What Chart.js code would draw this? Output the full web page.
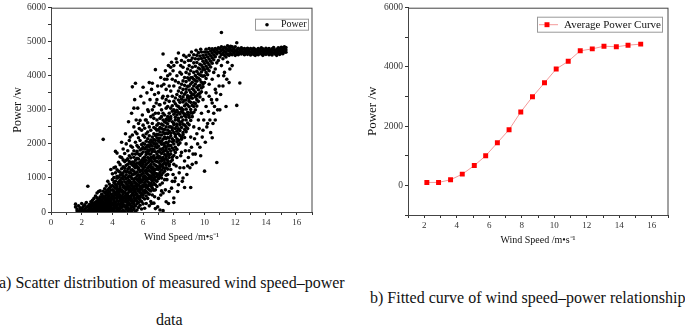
<!DOCTYPE html>
<html>
<head>
<meta charset="utf-8">
<script src="https://cdn.jsdelivr.net/npm/chart.js@4.4.1/dist/chart.umd.min.js"></script>
<style>
  body { margin: 0; background: #fff; }
  #page { position: relative; width: 685px; height: 328px; overflow: hidden; font-family: 'Liberation Serif', 'Times New Roman', serif; color: #111; }
  #scatterChart { position: absolute; left: 0; top: 0; }
  #curveChart { position: absolute; left: 340px; top: 0; }
  .caption { position: absolute; font-size: 16px; line-height: 18px; white-space: nowrap; }
</style>
</head>
<body>
<div id="page">
  <canvas id="scatterChart" width="340" height="250"></canvas>
  <canvas id="curveChart" width="345" height="250"></canvas>
  <div class="caption" style="left:-1px; top:274px;">a) Scatter distribution of measured wind speed–power</div>
  <div class="caption" style="left:156px; top:311px;">data</div>
  <div class="caption" style="left:370px; top:289px;">b) Fitted curve of wind speed–power relationship</div>
</div>
<script>
// measured points, grouped by wind speed (m/s) -> power readings (W)
const startupColumns = [
  [1.6, [150, 230]], [1.7, [40, 90]], [1.8, [10, 180]], [1.9, [60, 120]],
  [2.0, [20, 100, 250]], [2.1, [50, 160]], [2.2, [10, 90, 210]], [2.3, [30, 130, 280]],
  [2.4, [60, 170, 756]],
  [2.5, [10, 60, 100, 170, 220]],
  [2.6, [40, 90, 140, 210, 300]],
  [2.7, [20, 65, 90, 190, 260, 340]],
  [2.8, [5, 50, 130, 180, 230, 400]],
  [2.9, [10, 80, 120, 170, 240, 290, 470]],
  [3.0, [40, 75, 120, 210, 260, 330, 420, 560]],
  [3.1, [20, 90, 160, 200, 250, 310, 380, 600]],
  [3.2, [5, 60, 140, 190, 230, 310, 370, 450, 620]],
  [3.3, [10, 100, 135, 180, 270, 320, 360, 440, 520]],
  [3.4, [40, 85, 130, 220, 255, 300, 410, 470, 610, 2134]],
  [3.5, [20, 80, 170, 215, 260, 350, 400, 450, 560, 680]],
  [3.6, [50, 120, 160, 210, 300, 345, 390, 500, 600, 760]],
  [3.7, [10, 90, 160, 250, 290, 340, 430, 480, 540, 650, 900]],
  [3.8, [30, 70, 130, 200, 290, 330, 380, 470, 580, 700, 820]],
  [3.9, [60, 110, 180, 240, 330, 370, 420, 520, 640, 750, 1250]]
];

const rampColumns = [
  [4.0, [15, 95, 210, 260, 385, 470, 530, 655, 780, 950, 1120]],
  [4.1, [55, 140, 175, 300, 350, 445, 590, 620, 735, 870, 1010, 1300]],
  [4.2, [5, 120, 230, 290, 410, 505, 560, 700, 810, 905, 1150, 1320, 1780]],
  [4.3, [70, 160, 195, 330, 395, 480, 610, 680, 745, 990, 1050, 1240, 1730]],
  [4.4, [30, 110, 250, 315, 440, 520, 570, 665, 830, 880, 1020, 1200, 1460]],
  [4.5, [85, 180, 215, 345, 400, 505, 625, 690, 760, 935, 1080, 1170, 1390, 1620]],
  [4.6, [20, 135, 240, 285, 375, 460, 595, 640, 820, 870, 1000, 1100, 1270, 1600]],
  [4.7, [60, 200, 265, 350, 430, 540, 605, 725, 790, 960, 1060, 1150, 1330, 1530, 1850]],
  [4.8, [10, 150, 190, 325, 415, 470, 580, 700, 745, 890, 1030, 1210, 1290, 1480, 1720]],
  [4.9, [90, 170, 290, 370, 455, 520, 650, 715, 840, 975, 1095, 1180, 1370, 1520, 2000]],
  [5.0, [35, 130, 225, 305, 420, 490, 560, 690, 775, 905, 1010, 1180, 1260, 1400, 1560, 1800]],
  [5.1, [70, 210, 255, 360, 445, 590, 630, 740, 850, 930, 1065, 1160, 1310, 1480, 1650, 2100]],
  [5.2, [15, 115, 190, 330, 405, 475, 610, 690, 795, 880, 1020, 1150, 1230, 1420, 1590, 1940]],
  [5.3, [50, 160, 270, 350, 500, 545, 665, 760, 830, 975, 1090, 1240, 1380, 1470, 1700, 1900, 2260, 3675]],
  [5.4, [100, 230, 300, 420, 470, 600, 700, 730, 900, 960, 1110, 1200, 1340, 1450, 1610, 1800, 2500, 3050]],
  [5.5, [20, 175, 345, 390, 515, 580, 655, 780, 860, 995, 1140, 1300, 1390, 1520, 1700, 2050, 2350, 3780]],
  [5.6, [60, 240, 320, 440, 525, 690, 740, 820, 945, 1060, 1170, 1345, 1440, 1580, 1780, 1950, 2300]],
  [5.7, [130, 280, 400, 470, 610, 650, 790, 900, 985, 1090, 1250, 1300, 1430, 1560, 1700, 1900, 2180, 2600]],
  [5.8, [200, 350, 430, 560, 630, 715, 850, 955, 1040, 1180, 1230, 1390, 1470, 1660, 1820, 2100, 2690]],
  [5.9, [90, 305, 490, 545, 680, 760, 885, 935, 1100, 1210, 1345, 1440, 1510, 1710, 1850, 1980, 2400]],
  [6.0, [240, 420, 500, 610, 735, 800, 950, 1030, 1140, 1275, 1400, 1480, 1580, 1760, 1900, 2020, 2250, 2550, 3665]],
  [6.1, [110, 380, 560, 640, 770, 870, 980, 1060, 1205, 1330, 1470, 1540, 1615, 1850, 1990, 2200, 2460]],
  [6.2, [250, 470, 600, 720, 800, 925, 1015, 1150, 1240, 1390, 1520, 1690, 1760, 1900, 2080, 2300, 2700]],
  [6.3, [400, 560, 690, 755, 890, 980, 1100, 1195, 1300, 1440, 1600, 1745, 1830, 1960, 2150, 2350, 2620, 3000]],
  [6.4, [180, 520, 650, 800, 850, 1010, 1075, 1220, 1340, 1485, 1560, 1700, 1800, 1920, 2050, 2240, 2500, 3800]],
  [6.5, [310, 620, 760, 840, 965, 1050, 1180, 1295, 1390, 1530, 1600, 1700, 1850, 1980, 2110, 2400, 2800]],
  [6.6, [500, 700, 790, 915, 1020, 1130, 1250, 1320, 1475, 1610, 1770, 1840, 1940, 2060, 2200, 2600, 3000, 3780]],
  [6.7, [260, 640, 850, 960, 1080, 1190, 1270, 1410, 1560, 1650, 1840, 2010, 2130, 2300, 2480, 2750, 3100]],
  [6.8, [100, 650, 800, 930, 1020, 1140, 1250, 1370, 1500, 1580, 1770, 1920, 2000, 2100, 2250, 2450, 2900, 4180]],
  [6.9, [750, 900, 1050, 1120, 1270, 1340, 1480, 1600, 1700, 1890, 2000, 2180, 2280, 2400, 2550, 2700, 3300]],
  [7.0, [400, 980, 1090, 1250, 1320, 1460, 1580, 1645, 1780, 1930, 2090, 2160, 2270, 2420, 2600, 2900, 3500]],
  [7.1, [60, 800, 1020, 1160, 1310, 1390, 1500, 1620, 1760, 1850, 2050, 2170, 2350, 2480, 2750, 3150]],
  [7.2, [620, 1000, 1090, 1230, 1370, 1490, 1570, 1720, 1840, 1990, 2080, 2260, 2450, 2580, 2800, 3000, 3700]],
  [7.3, [40, 560, 1150, 1310, 1400, 1530, 1600, 1770, 1860, 2000, 2140, 2340, 2430, 2550, 2700, 2900, 3400, 4640]],
  [7.4, [950, 1200, 1280, 1450, 1540, 1690, 1790, 1930, 2010, 2200, 2300, 2420, 2650, 2850, 3200, 3900]],
  [7.5, [300, 1080, 1300, 1390, 1570, 1640, 1820, 1880, 2050, 2160, 2320, 2500, 2620, 2720, 3050, 3300, 3600]],
  [7.6, [1100, 1260, 1450, 1510, 1700, 1760, 1940, 2010, 2190, 2300, 2410, 2590, 2700, 2800, 3100, 3400, 4000]],
  [7.7, [600, 1350, 1400, 1600, 1680, 1850, 1950, 2080, 2170, 2360, 2500, 2680, 2760, 2900, 3250, 3700]],
  [7.8, [1250, 1480, 1700, 1790, 1950, 2230, 2310, 2500, 2740, 2800, 3050, 3550, 4250]],
  [7.9, [900, 1530, 1610, 1880, 2060, 2150, 2400, 2470, 2650, 2960, 3120, 3400, 3900]],
  [8.0, [280, 410, 1400, 1660, 1820, 2000, 2100, 2330, 2560, 2610, 2870, 3000, 3250, 3700, 4300]],
  [8.1, [1000, 1750, 1900, 2220, 2280, 2450, 2700, 2780, 2930, 3180, 3350, 3850]],
  [8.2, [1600, 1840, 2060, 2150, 2370, 2520, 2580, 2850, 2990, 3120, 3450, 4000, 4400]],
  [8.3, [800, 1980, 2110, 2300, 2440, 2690, 2750, 2920, 3100, 3290, 3550, 3800, 4670]],
  [8.4, [1300, 2030, 2250, 2390, 2560, 2620, 2880, 3040, 3220, 3390, 3650, 4100]],
  [8.5, [1750, 2140, 2200, 2480, 2650, 2790, 2950, 3050, 3310, 3500, 3750, 4050, 4450]],
  [8.6, [1000, 2270, 2330, 2580, 2700, 2910, 3000, 3230, 3380, 3600, 3850, 4250]],
  [8.7, [720, 1500, 2190, 2420, 2550, 2830, 2880, 3120, 3280, 3460, 3720, 3950, 4400]],
  [8.8, [2000, 2360, 2500, 2700, 2790, 3020, 3180, 3290, 3520, 3610, 3830, 4100, 4550]],
  [8.9, [1350, 2450, 2610, 2860, 2930, 3140, 3360, 3410, 3690, 3940, 4200]],
  [9.0, [1800, 2560, 2780, 2850, 3090, 3250, 3330, 3580, 3700, 3880, 4050, 4300, 4600]],
  [9.1, [720, 2200, 2690, 2920, 3010, 3220, 3400, 3510, 3760, 3940, 4150, 4450]],
  [9.2, [1400, 2800, 2900, 3130, 3340, 3460, 3620, 3810, 3950, 4250, 4520]],
  [9.3, [2500, 2930, 3100, 3210, 3450, 3580, 3700, 3900, 4100, 4380, 4620]],
  [9.4, [1700, 3000, 3190, 3380, 3520, 3760, 3860, 4010, 4280, 4500]],
  [9.5, [2300, 3110, 3300, 3410, 3660, 3840, 3950, 4130, 4390, 4600]],
  [9.6, [2700, 3250, 3460, 3590, 3700, 3930, 4060, 4230, 4490, 4680]],
  [9.7, [1900, 3380, 3490, 3720, 3880, 4030, 4200, 4340, 4580]],
  [9.8, [2900, 3530, 3640, 3810, 4000, 4110, 4310, 4510, 4700]],
  [9.9, [2400, 3300, 3680, 3760, 3990, 4180, 4250, 4430, 4600]]
];

const ratedColumns = [
  [10.0, [1200, 3800, 4000, 4180, 4360, 4530, 4700]],
  [10.1, [3100, 3500, 3920, 4100, 4280, 4450, 4620, 4780]],
  [10.2, [2600, 4030, 4210, 4380, 4550, 4700]],
  [10.3, [3400, 3750, 4150, 4320, 4490, 4640, 4800]],
  [10.4, [2330, 4260, 4430, 4590, 4730]],
  [10.5, [2180, 3200, 3900, 4370, 4530, 4670, 4790]],
  [10.6, [2900, 4100, 4470, 4610, 4740]],
  [10.7, [2700, 3600, 4200, 4560, 4690, 4800]],
  [10.8, [1455, 3300, 4380, 4640, 4760]],
  [10.9, [4000, 4450, 4700, 4820]],
  [11.0, [3000, 4550, 4680, 4790]],
  [11.1, [4300, 4620, 4740, 4850, 5270]],
  [11.2, [3700, 4500, 4660, 4780]],
  [11.3, [4100, 4600, 4720, 4840]],
  [11.4, [3100, 4550, 4680, 4800]],
  [11.5, [4400, 4630, 4760, 4880]],
  [11.6, [3800, 4600, 4720, 4830]],
  [11.7, [4650, 4770, 4870]],
  [11.8, [4300, 4620, 4740, 4850]],
  [11.9, [4680, 4790]],
  [12.0, [4600, 4720, 4850]], [12.1, [3130, 4650, 4760, 4970]], [12.2, [4620, 4700, 4810]],
  [12.3, [3790, 4660, 4760]], [12.4, [4640, 4730, 4820]], [12.5, [4680, 4780]],
  [12.6, [4620, 4710, 4800]], [12.7, [4660, 4760]], [12.8, [4630, 4720, 4810]],
  [12.9, [4680, 4770]], [13.0, [4610, 4700, 4800]], [13.1, [4650, 4750]],
  [13.2, [4630, 4720, 4810]], [13.3, [4600, 4690, 4780]], [13.4, [4660, 4750]],
  [13.5, [4620, 4710, 4800]], [13.6, [4670, 4760]], [13.7, [4640, 4730, 4820]],
  [13.8, [4600, 4700, 4790]], [13.9, [4660, 4750]], [14.0, [4630, 4720, 4810]],
  [14.1, [4680, 4770]], [14.2, [4620, 4710, 4800]], [14.3, [4650, 4740]],
  [14.4, [4610, 4700, 4790]], [14.5, [4670, 4760, 4830]], [14.6, [4640, 4730]],
  [14.7, [4600, 4690, 4780]], [14.8, [4660, 4750, 4820]], [14.9, [4630, 4720, 4800]],
  [15.0, [4680, 4770, 4840]], [15.1, [4650, 4740, 4820]], [15.2, [4700, 4790, 4850]],
  [15.3, [4690, 4760, 4830]]
];

// loose readings on both sides of the main band: [speed, power]
const scatteredPoints = [
  [4.6, 2050], [4.85, 2300], [5.05, 2650], [5.15, 2200], [5.25, 2900], [5.45, 3300],
  [5.55, 2700], [5.65, 3050], [5.75, 2450], [5.85, 3400], [5.95, 2850], [6.05, 3200],
  [6.15, 2700], [6.25, 3500], [6.35, 2950], [6.45, 3300], [6.55, 3600], [6.65, 2850],
  [6.75, 3450], [6.85, 3200], [6.95, 3700], [7.05, 3150], [7.15, 3950], [7.25, 3350],
  [7.35, 3750], [7.45, 4150], [7.55, 3900], [7.65, 4300], [7.75, 4050], [7.85, 4400],
  [7.95, 4150], [8.15, 4500], [8.45, 4300], [8.65, 4600], [8.95, 4450], [9.15, 4700],
  [9.45, 4750], [9.75, 4780],
  [6.55, 250], [6.75, 450], [6.95, 150], [7.15, 500], [7.25, 850], [7.45, 650],
  [7.55, 950], [7.65, 250], [7.85, 700], [7.95, 1100], [8.05, 900], [8.15, 1350],
  [8.25, 600], [8.35, 1150], [8.45, 1650], [8.55, 900], [8.65, 1300], [8.75, 1800],
  [8.85, 1100], [8.95, 1600], [9.05, 1300], [9.15, 1900], [9.25, 1700], [9.35, 2150],
  [9.45, 1450], [9.55, 2000], [9.65, 2450], [9.75, 1650], [9.85, 2200], [9.95, 2700],
  [10.05, 2050], [10.15, 2500], [10.25, 2950], [10.35, 2700], [10.45, 3300], [10.55, 2600],
  [10.65, 3100], [10.75, 3500], [10.85, 3000], [10.95, 3700], [11.05, 3450], [11.25, 4000],
  [11.45, 3900], [11.65, 4200]
];

// averaged power curve
const curveSpeed = [2.16, 2.88, 3.62, 4.34, 5.08, 5.78, 6.5, 7.22, 7.94, 8.66, 9.4, 10.12, 10.86, 11.6, 12.34, 13.06, 13.82, 14.54, 15.32];
const curvePower = [100, 100, 190, 380, 670, 1000, 1440, 1880, 2480, 2990, 3465, 3930, 4190, 4545, 4610, 4700, 4680, 4735, 4770];

const serif = "'Liberation Serif', 'Times New Roman', serif";
const tickFont = { family: serif, size: 9 };

function toPoints(cols) {
  return cols.flatMap(([s, ps]) => ps.map(p => ({ x: s, y: p })));
}

// box around the plot area (Chart.js only draws left/bottom)
const frame = {
  id: 'frame',
  afterDraw(chart) {
    const { ctx, chartArea: a } = chart;
    ctx.save();
    ctx.strokeStyle = '#444';
    ctx.lineWidth = 1;
    ctx.strokeRect(a.left + 0.5, a.top + 0.5, a.right - a.left - 0.5, a.bottom - a.top);
    ctx.restore();
  }
};

// small boxed legend in the top right corner
const boxLegend = {
  id: 'boxLegend',
  afterDraw(chart, args, o) {
    const { ctx, chartArea: a } = chart;
    const ds = chart.data.datasets[0];
    const x = a.right - o.right - o.width, y = a.top + o.top;
    const cy = y + o.height / 2 + 0.5;
    ctx.save();
    ctx.strokeStyle = '#999';
    ctx.lineWidth = 1;
    ctx.strokeRect(x + 0.5, y + 0.5, o.width, o.height);
    if (o.line) {
      ctx.strokeStyle = ds.borderColor;
      ctx.beginPath();
      ctx.moveTo(x + 2, cy);
      ctx.lineTo(x + o.lineEnd, cy);
      ctx.stroke();
    }
    ctx.fillStyle = ds.pointBackgroundColor || ds.backgroundColor;
    Chart.helpers.drawPoint(ctx, { pointStyle: ds.pointStyle || 'circle', radius: o.markerRadius, borderWidth: 0, rotation: 0 }, x + o.markerX, cy);
    ctx.fillStyle = '#111';
    ctx.font = o.fontSize + 'px ' + serif;
    ctx.textBaseline = 'middle';
    ctx.fillText(ds.label, x + o.textX, cy);
    ctx.restore();
  }
};

function xAxis(min, max, height, titlePad) {
  return {
    type: 'linear', min: min, max: max,
    afterFit: s => { s.height = height; },
    ticks: { stepSize: 1, autoSkip: false, maxRotation: 0, padding: 2, color: '#333', font: tickFont,
      callback: v => (v % 2 === 0 && v <= 16) ? v : '' },
    grid: { drawOnChartArea: false, tickLength: 3, color: '#333' },
    border: { color: '#333' },
    title: { display: true, text: 'Wind Speed /m•s⁻¹', color: '#111', font: { family: serif, size: 10 }, padding: { top: 0, bottom: titlePad } }
  };
}

function yAxis(min, max, step, labelEvery, width, titleSize, titlePad) {
  return {
    min: min, max: max,
    afterFit: s => { s.width = width; },
    ticks: { stepSize: step, autoSkip: false, padding: 2, color: '#333', font: { family: serif, size: 9.5 },
      callback: v => (v >= 0 && v % labelEvery === 0) ? v : '' },
    grid: { drawOnChartArea: false, tickLength: 3, color: '#333' },
    border: { color: '#333' },
    title: { display: true, text: 'Power /w', color: '#111', font: { family: serif, size: titleSize }, padding: { top: titlePad, bottom: 0 } }
  };
}

new Chart(document.getElementById('scatterChart'), {
  type: 'scatter',
  data: {
    datasets: [{
      label: 'Power',
      data: toPoints(startupColumns).concat(
        toPoints(rampColumns),
        toPoints(ratedColumns),
        scatteredPoints.map(([s, p]) => ({ x: s, y: p }))
      ),
      backgroundColor: '#000',
      borderWidth: 0,
      pointRadius: 1.8,
      pointHoverRadius: 1.8
    }]
  },
  options: {
    responsive: false,
    animation: false,
    layout: { padding: { top: 3, right: 28, left: 0, bottom: 0 } },
    scales: {
      x: xAxis(0, 17, 38, 7),
      y: yAxis(0, 6000, 500, 1000, 51, 12, 10.5)
    },
    plugins: {
      legend: { display: false },
      tooltip: { enabled: false },
      boxLegend: { right: 4, top: 11, width: 53, height: 11, markerX: 12, markerRadius: 1.8, textX: 26, fontSize: 10, line: false }
    }
  },
  plugins: [frame, boxLegend]
});

new Chart(document.getElementById('curveChart'), {
  type: 'line',
  data: {
    datasets: [{
      label: 'Average Power Curve',
      data: curveSpeed.map((s, i) => ({ x: s, y: curvePower[i] })),
      borderColor: '#f49a9a',
      borderWidth: 1,
      pointStyle: 'rect',
      pointRadius: 3.5,
      pointBackgroundColor: '#ff0000',
      pointBorderWidth: 0,
      tension: 0
    }]
  },
  options: {
    responsive: false,
    animation: false,
    layout: { padding: { top: 6, right: 17, left: 0, bottom: 0 } },
    scales: {
      x: xAxis(1, 17, 35, 4),
      y: yAxis(-1000, 6000, 1000, 2000, 68, 13, 25)
    },
    plugins: {
      legend: { display: false },
      tooltip: { enabled: false },
      boxLegend: { right: 6, top: 9, width: 125, height: 15, line: true, lineEnd: 21, markerX: 10, markerRadius: 3.5, textX: 27, fontSize: 11 }
    }
  },
  plugins: [frame, boxLegend]
});
</script>
</body>
</html>
